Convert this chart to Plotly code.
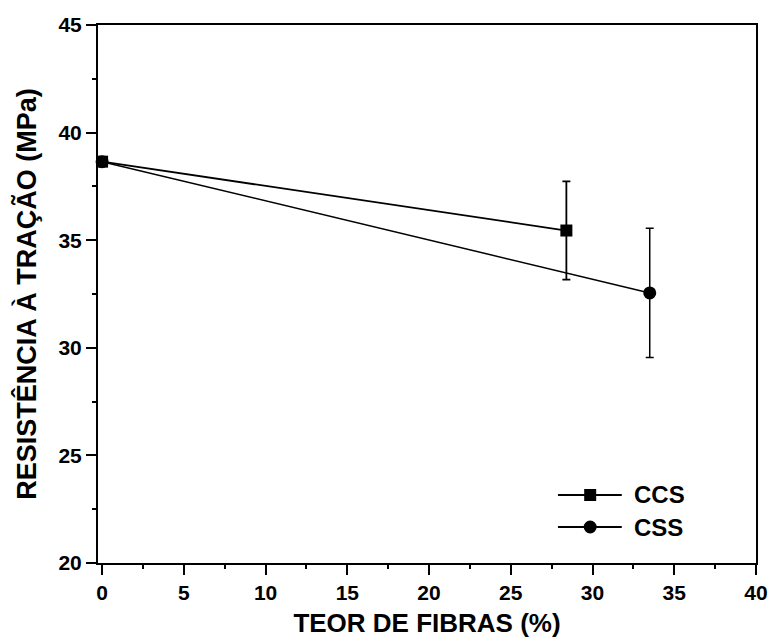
import plotly.graph_objects as go

# Data
fiber_ccs = [0, 28.4]
strength_ccs = [38.65, 35.45]
err_ccs = [0, 2.28]

fiber_css = [0, 33.5]
strength_css = [38.65, 32.55]
err_css = [0, 3.0]

x_ticks = [0, 5, 10, 15, 20, 25, 30, 35, 40]
y_ticks = [20, 25, 30, 35, 40, 45]

series_names = ["CCS", "CSS"]

FONT = "Liberation Sans"

fig = go.Figure()
fig.add_trace(go.Scatter(
    x=fiber_ccs, y=strength_ccs, name=series_names[0], mode="lines+markers",
    line=dict(color="black", width=1.8),
    marker=dict(symbol="square", size=12, color="black"),
    error_y=dict(type="data", array=err_ccs, visible=True, color="black", thickness=1.8, width=4),
    cliponaxis=False, showlegend=False,
))
fig.add_trace(go.Scatter(
    x=fiber_css, y=strength_css, name=series_names[1], mode="lines+markers",
    line=dict(color="black", width=1.5),
    marker=dict(symbol="circle", size=13, color="black"),
    error_y=dict(type="data", array=err_css, visible=True, color="black", thickness=1.5, width=4),
    cliponaxis=False, showlegend=False,
))

axis_common = dict(
    showline=True, linecolor="black", linewidth=2, mirror=True,
    ticks="outside", ticklen=10, tickwidth=2, tickcolor="black",
    showgrid=False, zeroline=False, automargin=False,
    tickfont=dict(family=FONT, size=21, color="black", weight="bold"),
    minor=dict(ticks="outside", ticklen=4, tickwidth=2, tickcolor="black", dtick=2.5, showgrid=False),
)

fig.update_xaxes(
    range=[-0.25, 40], tickvals=x_ticks, ticktext=[str(v) for v in x_ticks],
    title=dict(text="TEOR DE FIBRAS (%)", font=dict(family=FONT, size=26, color="black", weight="bold"), standoff=11),
    **axis_common,
)
fig.update_yaxes(
    range=[20, 45], tickvals=y_ticks, ticktext=[str(v) for v in y_ticks],
    title=dict(text="RESISTÊNCIA À TRAÇÃO (MPa)", font=dict(family=FONT, size=27, color="black", weight="bold"), standoff=14),
    **axis_common,
)

# Manual legend (long sample lines like the original)
legend_rows = [(0.1264, "square", 12), (0.0669, "circle", 13)]
shapes = []
annotations = []
for (yp, sym, sz), name in zip(legend_rows, series_names):
    shapes.append(dict(type="line", xref="paper", yref="paper", x0=0.699, x1=0.796, y0=yp, y1=yp,
                       line=dict(color="black", width=1.8)))
    half = sz / 2
    shapes.append(dict(type="rect" if sym == "square" else "circle", xref="paper", yref="paper",
                       xsizemode="pixel", ysizemode="pixel", xanchor=0.748, yanchor=yp,
                       x0=-half, x1=half, y0=-half, y1=half,
                       fillcolor="black", line=dict(color="black", width=0)))
    annotations.append(dict(xref="paper", yref="paper", x=0.8116, y=yp, xanchor="left", yanchor="middle",
                            text=name, showarrow=False,
                            font=dict(family=FONT, size=24, color="black", weight="bold")))

fig.update_layout(
    width=770, height=643,
    margin=dict(l=98, r=14, t=25, b=80),
    paper_bgcolor="white", plot_bgcolor="white",
    showlegend=False,
    shapes=shapes, annotations=annotations,
)

fig.write_html(
    "out.html",
    config={"displayModeBar": False},
    post_script="document.body.style.margin='0';document.body.style.overflow='hidden';",
)
